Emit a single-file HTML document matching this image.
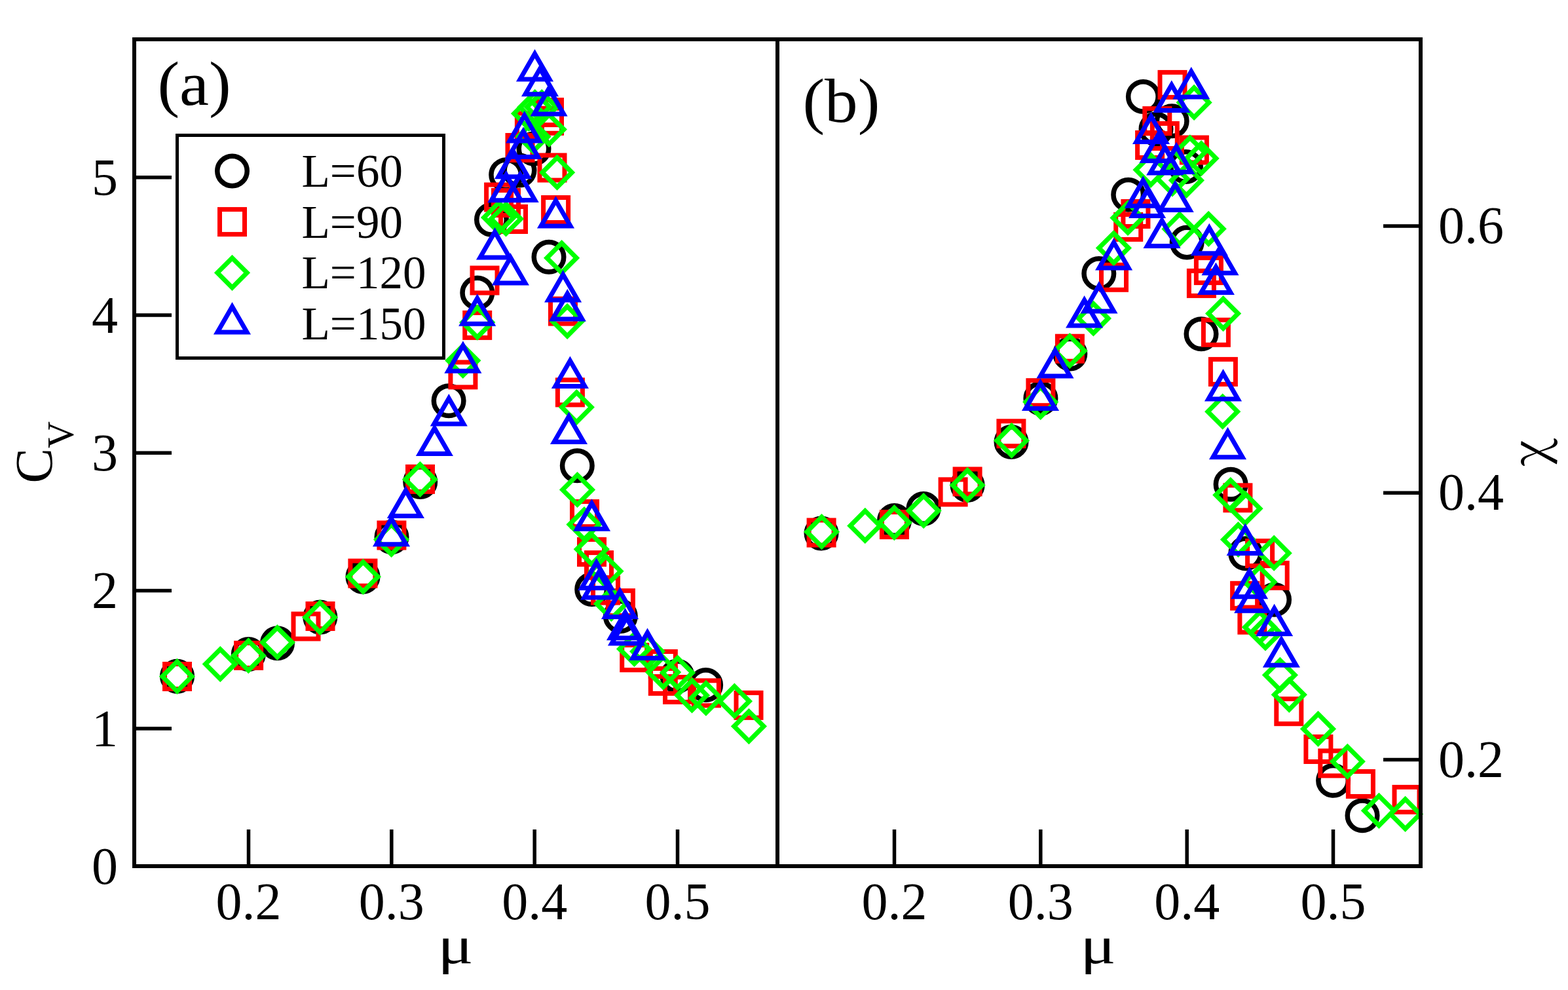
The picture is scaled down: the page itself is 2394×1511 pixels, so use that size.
<!DOCTYPE html>
<html><head><meta charset="utf-8"><style>
html,body{margin:0;padding:0;background:#fff;}
svg{display:block;}
</style></head><body>
<svg width="2394" height="1511" viewBox="0 0 2394 1511">
<rect width="100%" height="100%" fill="#fff"/>
<defs>
<circle id="mc" r="22.75" fill="none" stroke="#000" stroke-width="7.5"/>
<rect id="ms" x="-19" y="-19" width="38" height="38" fill="none" stroke="#f00" stroke-width="7"/>
<path id="md" d="M0,-22.6L22.6,0L0,22.6L-22.6,0Z" fill="none" stroke="#0f0" stroke-width="7.1" stroke-linejoin="miter"/>
<path id="mt" d="M0,-26L22.5,13L-22.5,13Z" fill="none" stroke="#00f" stroke-width="7" stroke-linejoin="miter"/>
</defs>
<use href="#mc" x="270.5" y="1032.2"/>
<use href="#mc" x="379.3" y="998.5"/>
<use href="#mc" x="423.5" y="981.7"/>
<use href="#mc" x="488.8" y="942.0"/>
<use href="#mc" x="554.0" y="880.2"/>
<use href="#mc" x="598.0" y="819.8"/>
<use href="#mc" x="641.7" y="735.4"/>
<use href="#mc" x="685.1" y="611.8"/>
<use href="#mc" x="728.8" y="446.9"/>
<use href="#mc" x="750.5" y="335.2"/>
<use href="#mc" x="772.7" y="266.8"/>
<use href="#mc" x="793.0" y="260.0"/>
<use href="#mc" x="815.0" y="227.0"/>
<use href="#mc" x="838.0" y="392.3"/>
<use href="#mc" x="881.3" y="710.7"/>
<use href="#mc" x="903.7" y="899.6"/>
<use href="#mc" x="947.3" y="940.5"/>
<use href="#mc" x="1034.0" y="1032.0"/>
<use href="#mc" x="1077.6" y="1045.5"/>
<use href="#ms" x="270.5" y="1032.5"/>
<use href="#ms" x="379.6" y="1000.4"/>
<use href="#ms" x="467.0" y="956.0"/>
<use href="#ms" x="489.0" y="940.5"/>
<use href="#ms" x="553.9" y="875.1"/>
<use href="#ms" x="597.9" y="817.0"/>
<use href="#ms" x="641.5" y="731.4"/>
<use href="#ms" x="706.9" y="571.9"/>
<use href="#ms" x="728.7" y="496.4"/>
<use href="#ms" x="740.0" y="428.0"/>
<use href="#ms" x="761.6" y="301.0"/>
<use href="#ms" x="772.5" y="309.5"/>
<use href="#ms" x="783.5" y="334.5"/>
<use href="#ms" x="794.0" y="225.5"/>
<use href="#ms" x="808.4" y="192.0"/>
<use href="#ms" x="838.5" y="171.6"/>
<use href="#ms" x="838.5" y="184.3"/>
<use href="#ms" x="843.0" y="256.0"/>
<use href="#ms" x="848.6" y="320.5"/>
<use href="#ms" x="859.5" y="475.0"/>
<use href="#ms" x="870.4" y="598.9"/>
<use href="#ms" x="892.5" y="784.6"/>
<use href="#ms" x="903.5" y="842.4"/>
<use href="#ms" x="914.5" y="862.6"/>
<use href="#ms" x="924.5" y="901.0"/>
<use href="#ms" x="947.4" y="920.6"/>
<use href="#ms" x="968.7" y="1003.6"/>
<use href="#ms" x="1012.3" y="1013.5"/>
<use href="#ms" x="1012.3" y="1039.4"/>
<use href="#ms" x="1034.5" y="1052.5"/>
<use href="#ms" x="1078.4" y="1057.8"/>
<use href="#ms" x="1143.0" y="1076.4"/>
<use href="#md" x="270.4" y="1032.4"/>
<use href="#md" x="336.3" y="1013.6"/>
<use href="#md" x="379.3" y="1000.7"/>
<use href="#md" x="423.4" y="980.5"/>
<use href="#md" x="488.6" y="942.3"/>
<use href="#md" x="554.4" y="880.3"/>
<use href="#md" x="597.6" y="823.4"/>
<use href="#md" x="641.4" y="731.7"/>
<use href="#md" x="706.8" y="550.3"/>
<use href="#md" x="728.7" y="492.1"/>
<use href="#md" x="761.5" y="332.0"/>
<use href="#md" x="772.5" y="334.0"/>
<use href="#md" x="814.0" y="208.4"/>
<use href="#md" x="807.5" y="173.3"/>
<use href="#md" x="816.7" y="163.6"/>
<use href="#md" x="827.2" y="163.6"/>
<use href="#md" x="838.3" y="197.5"/>
<use href="#md" x="850.6" y="263.2"/>
<use href="#md" x="857.6" y="393.7"/>
<use href="#md" x="866.1" y="490.3"/>
<use href="#md" x="880.3" y="621.6"/>
<use href="#md" x="881.5" y="747.5"/>
<use href="#md" x="892.0" y="800.5"/>
<use href="#md" x="903.3" y="838.3"/>
<use href="#md" x="925.0" y="871.8"/>
<use href="#md" x="933.4" y="921.5"/>
<use href="#md" x="968.5" y="990.4"/>
<use href="#md" x="988.6" y="994.3"/>
<use href="#md" x="1012.5" y="1025.9"/>
<use href="#md" x="1034.5" y="1026.8"/>
<use href="#md" x="1056.5" y="1061.2"/>
<use href="#md" x="1077.9" y="1065.4"/>
<use href="#md" x="1121.4" y="1070.2"/>
<use href="#md" x="1143.4" y="1108.6"/>
<use href="#mt" x="597.5" y="817.8"/>
<use href="#mt" x="619.4" y="774.6"/>
<use href="#mt" x="663.4" y="679.6"/>
<use href="#mt" x="685.3" y="634.0"/>
<use href="#mt" x="706.9" y="553.2"/>
<use href="#mt" x="728.7" y="481.3"/>
<use href="#mt" x="755.5" y="380.0"/>
<use href="#mt" x="779.4" y="419.0"/>
<use href="#mt" x="772.8" y="292.8"/>
<use href="#mt" x="794.2" y="292.4"/>
<use href="#mt" x="783.5" y="256.8"/>
<use href="#mt" x="799.0" y="226.5"/>
<use href="#mt" x="800.7" y="202.0"/>
<use href="#mt" x="816.5" y="107.9"/>
<use href="#mt" x="824.5" y="130.8"/>
<use href="#mt" x="838.1" y="160.9"/>
<use href="#mt" x="848.5" y="332.0"/>
<use href="#mt" x="859.6" y="444.9"/>
<use href="#mt" x="866.3" y="473.9"/>
<use href="#mt" x="870.4" y="576.4"/>
<use href="#mt" x="868.5" y="661.6"/>
<use href="#mt" x="903.5" y="794.2"/>
<use href="#mt" x="910.6" y="884.5"/>
<use href="#mt" x="914.5" y="899.0"/>
<use href="#mt" x="946.5" y="928.4"/>
<use href="#mt" x="954.5" y="960.7"/>
<use href="#mt" x="956.5" y="969.0"/>
<use href="#mt" x="988.5" y="991.5"/>
<use href="#mc" x="1254.0" y="813.9"/>
<use href="#mc" x="1365.5" y="794.5"/>
<use href="#mc" x="1410.0" y="776.5"/>
<use href="#mc" x="1477.1" y="740.4"/>
<use href="#mc" x="1544.0" y="674.6"/>
<use href="#mc" x="1588.9" y="607.9"/>
<use href="#mc" x="1633.8" y="540.1"/>
<use href="#mc" x="1677.8" y="417.5"/>
<use href="#mc" x="1722.7" y="297.2"/>
<use href="#mc" x="1745.4" y="147.4"/>
<use href="#mc" x="1765.0" y="197.0"/>
<use href="#mc" x="1789.2" y="184.8"/>
<use href="#mc" x="1810.5" y="254.5"/>
<use href="#mc" x="1812.2" y="369.9"/>
<use href="#mc" x="1834.0" y="509.7"/>
<use href="#mc" x="1879.1" y="739.3"/>
<use href="#mc" x="1901.8" y="844.7"/>
<use href="#mc" x="1945.5" y="915.3"/>
<use href="#mc" x="2035.6" y="1191.2"/>
<use href="#mc" x="2080.0" y="1244.7"/>
<use href="#ms" x="1254.1" y="813.0"/>
<use href="#ms" x="1365.4" y="800.6"/>
<use href="#ms" x="1455.1" y="750.9"/>
<use href="#ms" x="1477.1" y="735.0"/>
<use href="#ms" x="1543.9" y="661.8"/>
<use href="#ms" x="1588.9" y="599.7"/>
<use href="#ms" x="1633.4" y="532.2"/>
<use href="#ms" x="1700.5" y="423.3"/>
<use href="#ms" x="1722.7" y="346.4"/>
<use href="#ms" x="1733.9" y="326.5"/>
<use href="#ms" x="1755.6" y="221.5"/>
<use href="#ms" x="1766.8" y="184.7"/>
<use href="#ms" x="1778.3" y="207.5"/>
<use href="#ms" x="1790.0" y="129.4"/>
<use href="#ms" x="1823.4" y="229.0"/>
<use href="#ms" x="1834.4" y="432.4"/>
<use href="#ms" x="1845.4" y="412.6"/>
<use href="#ms" x="1856.4" y="507.3"/>
<use href="#ms" x="1867.4" y="567.4"/>
<use href="#ms" x="1889.9" y="759.8"/>
<use href="#ms" x="1900.6" y="909.3"/>
<use href="#ms" x="1911.9" y="946.0"/>
<use href="#ms" x="1923.6" y="844.6"/>
<use href="#ms" x="1946.2" y="878.3"/>
<use href="#ms" x="1967.8" y="1085.7"/>
<use href="#ms" x="2012.9" y="1143.5"/>
<use href="#ms" x="2034.8" y="1165.0"/>
<use href="#ms" x="2077.4" y="1196.5"/>
<use href="#ms" x="2148.0" y="1220.4"/>
<use href="#md" x="1254.5" y="811.7"/>
<use href="#md" x="1320.8" y="802.4"/>
<use href="#md" x="1365.4" y="797.6"/>
<use href="#md" x="1410.1" y="779.5"/>
<use href="#md" x="1477.1" y="740.4"/>
<use href="#md" x="1544.5" y="672.4"/>
<use href="#md" x="1588.7" y="613.6"/>
<use href="#md" x="1633.3" y="535.5"/>
<use href="#md" x="1669.4" y="486.0"/>
<use href="#md" x="1700.4" y="378.6"/>
<use href="#md" x="1722.0" y="332.5"/>
<use href="#md" x="1757.0" y="259.3"/>
<use href="#md" x="1790.0" y="272.8"/>
<use href="#md" x="1811.4" y="275.3"/>
<use href="#md" x="1801.0" y="349.6"/>
<use href="#md" x="1816.8" y="232.8"/>
<use href="#md" x="1823.1" y="156.4"/>
<use href="#md" x="1834.1" y="241.7"/>
<use href="#md" x="1845.2" y="349.3"/>
<use href="#md" x="1867.6" y="478.6"/>
<use href="#md" x="1866.7" y="628.2"/>
<use href="#md" x="1878.8" y="755.5"/>
<use href="#md" x="1890.5" y="823.5"/>
<use href="#md" x="1901.0" y="776.2"/>
<use href="#md" x="1923.0" y="888.3"/>
<use href="#md" x="1945.2" y="844.2"/>
<use href="#md" x="1923.4" y="957.2"/>
<use href="#md" x="1932.0" y="966.2"/>
<use href="#md" x="1954.4" y="1030.3"/>
<use href="#md" x="1968.3" y="1060.3"/>
<use href="#md" x="2012.5" y="1112.4"/>
<use href="#md" x="2057.3" y="1162.3"/>
<use href="#md" x="2105.4" y="1237.3"/>
<use href="#md" x="2145.6" y="1242.4"/>
<use href="#mt" x="1588.5" y="610.5"/>
<use href="#mt" x="1611.0" y="561.0"/>
<use href="#mt" x="1655.6" y="484.0"/>
<use href="#mt" x="1678.0" y="462.0"/>
<use href="#mt" x="1700.6" y="396.1"/>
<use href="#mt" x="1745.2" y="301.3"/>
<use href="#mt" x="1751.6" y="316.6"/>
<use href="#mt" x="1757.5" y="203.6"/>
<use href="#mt" x="1767.9" y="232.5"/>
<use href="#mt" x="1774.0" y="362.5"/>
<use href="#mt" x="1778.7" y="251.1"/>
<use href="#mt" x="1788.8" y="155.4"/>
<use href="#mt" x="1794.2" y="307.5"/>
<use href="#mt" x="1796.1" y="249.6"/>
<use href="#mt" x="1818.8" y="134.9"/>
<use href="#mt" x="1846.3" y="373.7"/>
<use href="#mt" x="1863.0" y="403.7"/>
<use href="#mt" x="1856.4" y="433.6"/>
<use href="#mt" x="1867.5" y="595.9"/>
<use href="#mt" x="1874.5" y="684.7"/>
<use href="#mt" x="1901.2" y="831.5"/>
<use href="#mt" x="1907.6" y="897.7"/>
<use href="#mt" x="1912.7" y="919.3"/>
<use href="#mt" x="1945.6" y="954.4"/>
<use href="#mt" x="1956.4" y="1002.3"/>
<g fill="none" stroke="#000" stroke-width="6">
<rect x="205" y="60" width="982" height="1262"/>
<rect x="1187" y="60" width="982" height="1262"/>
</g>
<g stroke="#000" stroke-width="5.5">
<line x1="205" y1="1112.0" x2="262" y2="1112.0"/>
<line x1="205" y1="901.6" x2="262" y2="901.6"/>
<line x1="205" y1="691.3" x2="262" y2="691.3"/>
<line x1="205" y1="481.0" x2="262" y2="481.0"/>
<line x1="205" y1="270.8" x2="262" y2="270.8"/>
<line x1="379.5" y1="1322" x2="379.5" y2="1266"/>
<line x1="1365.5" y1="1322" x2="1365.5" y2="1266"/>
<line x1="597.8" y1="1322" x2="597.8" y2="1266"/>
<line x1="1588.8" y1="1322" x2="1588.8" y2="1266"/>
<line x1="816.2" y1="1322" x2="816.2" y2="1266"/>
<line x1="1812.2" y1="1322" x2="1812.2" y2="1266"/>
<line x1="1034.5" y1="1322" x2="1034.5" y2="1266"/>
<line x1="2035.5" y1="1322" x2="2035.5" y2="1266"/>
<line x1="2169" y1="1159.4" x2="2112" y2="1159.4"/>
<line x1="2169" y1="752.2" x2="2112" y2="752.2"/>
<line x1="2169" y1="345.0" x2="2112" y2="345.0"/>
</g>
<g font-family="Liberation Serif, serif" fill="#000">
<text x="180" y="1349.0" font-size="80" text-anchor="end">0</text>
<text x="180" y="1138.8" font-size="80" text-anchor="end">1</text>
<text x="180" y="928.4" font-size="80" text-anchor="end">2</text>
<text x="180" y="718.1" font-size="80" text-anchor="end">3</text>
<text x="180" y="507.8" font-size="80" text-anchor="end">4</text>
<text x="180" y="297.6" font-size="80" text-anchor="end">5</text>
<text x="379.5" y="1402.9" font-size="80" text-anchor="middle">0.2</text>
<text x="1365.5" y="1402.9" font-size="80" text-anchor="middle">0.2</text>
<text x="597.8" y="1402.9" font-size="80" text-anchor="middle">0.3</text>
<text x="1588.8" y="1402.9" font-size="80" text-anchor="middle">0.3</text>
<text x="816.2" y="1402.9" font-size="80" text-anchor="middle">0.4</text>
<text x="1812.2" y="1402.9" font-size="80" text-anchor="middle">0.4</text>
<text x="1034.5" y="1402.9" font-size="80" text-anchor="middle">0.5</text>
<text x="2035.5" y="1402.9" font-size="80" text-anchor="middle">0.5</text>
<text x="2196" y="1185.5" font-size="80">0.2</text>
<text x="2196" y="778.3" font-size="80">0.4</text>
<text x="2196" y="371.1" font-size="80">0.6</text>
<text transform="translate(695.5,1470) scale(1.27,1)" font-size="80" text-anchor="middle">μ</text>
<text transform="translate(1676.4,1470) scale(1.27,1)" font-size="80" text-anchor="middle">μ</text>
<text transform="translate(79,737.5) rotate(-90)" font-size="80">C<tspan font-size="57" dy="33">V</tspan></text>
<text transform="translate(2362,691) rotate(-90)" font-size="76" font-family="Noto Serif CJK SC, Liberation Serif, serif" text-anchor="middle">χ</text>
<text transform="translate(240.4,160) scale(1.065,1)" font-size="95">(a)</text>
<text transform="translate(1225.4,186) scale(1.065,1)" font-size="95">(b)</text>
</g>
<rect x="270.5" y="206.5" width="407" height="340" fill="#fff" stroke="#000" stroke-width="5"/>
<use href="#mc" x="354.5" y="260.9"/>
<use href="#ms" x="354.5" y="338.6"/>
<use href="#md" x="354.5" y="416.3"/>
<use href="#mt" x="354.5" y="494.0"/>
<g font-family="Liberation Serif, serif" font-size="71" fill="#000">
<text x="460.5" y="285.1">L=60</text>
<text x="460.5" y="362.6">L=90</text>
<text x="460.5" y="440.1">L=120</text>
<text x="460.5" y="517.6">L=150</text>
</g>
</svg>
</body></html>
